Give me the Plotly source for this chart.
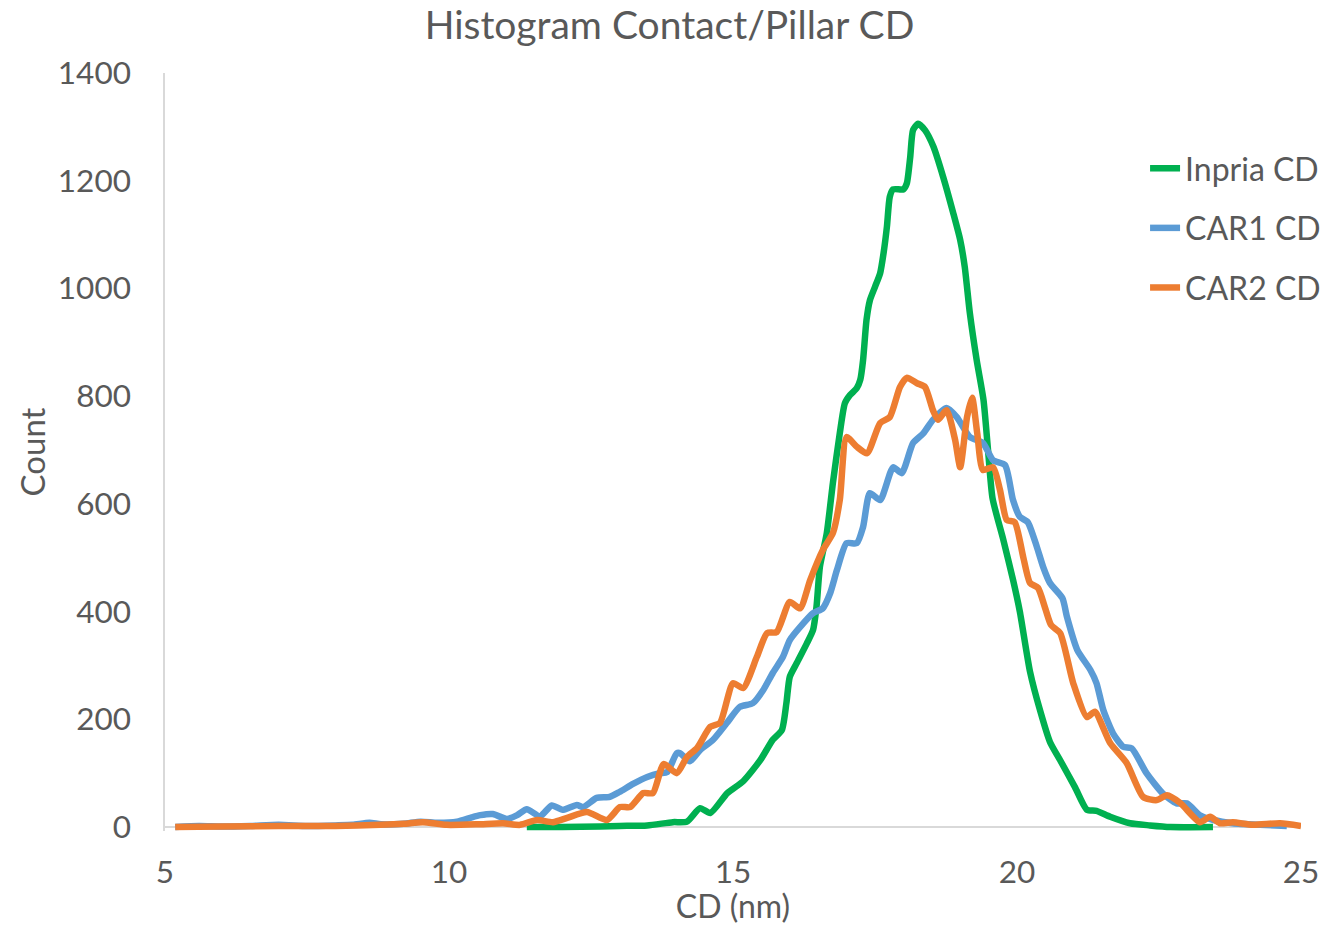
import plotly.graph_objects as go

# ---- data ----
inpria_x = [11.37, 12.0, 12.66, 13.0, 13.49, 13.94, 14.19, 14.42, 14.6, 14.9, 15.18, 15.48, 15.7,
            15.86, 15.94, 16.0, 16.12, 16.3, 16.41, 16.47, 16.53, 16.65, 16.76, 16.88, 16.97, 17.06,
            17.18, 17.24, 17.29, 17.35, 17.41, 17.5, 17.59, 17.65, 17.71, 17.76, 17.82, 18.0, 18.06,
            18.12, 18.17, 18.26, 18.38, 18.53, 18.7, 18.88, 19.0, 19.08, 19.17, 19.29, 19.41, 19.49,
            19.57, 19.76, 19.93, 20.05, 20.23, 20.41, 20.58, 20.76, 21.02, 21.23, 21.4, 21.64, 21.99,
            22.34, 22.7, 23.45]
inpria_y = [0, 0, 1, 2, 3, 9, 10, 35, 26, 63, 85, 124, 162,
            180, 230, 279, 304, 341, 366, 409, 483, 545, 640, 731, 787, 802,
            815, 830, 867, 941, 978, 1003, 1028, 1065, 1115, 1170, 1184, 1184, 1195,
            1244, 1294, 1306, 1294, 1263, 1207, 1139, 1090, 1040, 954, 867, 793, 700,
            610, 533, 459, 400, 288, 215, 158, 124, 74, 32, 30, 19, 7,
            3, 0, 0]

car1_x = [5.18, 5.6, 6.0, 6.5, 7.0, 7.5, 8.0, 8.3, 8.6, 8.8, 9.2, 9.5, 9.8, 10.14, 10.4, 10.55,
          10.77, 11.02, 11.2, 11.37, 11.6, 11.81, 12.0, 12.25, 12.36, 12.6, 12.83, 13.0, 13.24,
          13.49, 13.71, 13.84, 14.01, 14.07, 14.24, 14.42, 14.65, 14.89, 15.12, 15.35, 15.53,
          15.7, 15.88, 16.0, 16.18, 16.41, 16.58, 16.71, 16.83, 17.0, 17.18, 17.29, 17.41, 17.59,
          17.82, 17.97, 18.17, 18.35, 18.52, 18.76, 18.94, 19.17, 19.4, 19.58, 19.79, 19.93, 20.05,
          20.19, 20.35, 20.46, 20.58, 20.8, 20.88, 21.06, 21.29, 21.4, 21.52, 21.69, 21.87, 22.02,
          22.28, 22.57, 22.81, 22.99, 23.22, 23.46, 23.8, 24.28, 24.75]
car1_y = [0, 2, 1, 2, 4, 2, 3, 4, 8, 5, 6, 10, 8, 10, 18, 22,
          24, 15, 22, 33, 20, 40, 32, 41, 37, 54, 56, 65, 80,
          93, 100, 102, 137, 137, 122, 143, 162, 193, 223, 230, 254,
          286, 316, 347, 371, 397, 406, 434, 477, 527, 527, 557, 620, 607,
          668, 657, 713, 731, 756, 778, 761, 724, 713, 681, 672, 607, 576,
          566, 520, 483, 453, 425, 390, 329, 292, 267, 217, 174, 149, 146,
          100, 62, 44, 44, 22, 13, 7, 4, 2]

car2_x = [5.18, 6.0, 7.0, 8.0, 8.79, 9.2, 9.54, 9.96, 10.5, 10.95, 11.25, 11.55, 11.83, 12.08,
          12.43, 12.78, 13.01, 13.19, 13.42, 13.59, 13.78, 14.01, 14.19, 14.37, 14.6, 14.77, 15.0,
          15.18, 15.42, 15.6, 15.77, 16.0, 16.18, 16.36, 16.58, 16.76, 16.88, 17.0, 17.18, 17.36,
          17.59, 17.76, 17.94, 18.06, 18.24, 18.38, 18.52, 18.61, 18.76, 18.91, 19.0, 19.12, 19.21,
          19.3, 19.4, 19.58, 19.7, 19.82, 19.96, 20.11, 20.23, 20.37, 20.5, 20.6, 20.76, 20.99,
          21.23, 21.37, 21.64, 21.93, 22.22, 22.46, 22.64, 22.87, 23.22, 23.4, 23.57, 23.8, 24.15,
          24.63, 25.0]
car2_y = [0, 1, 2, 2, 4, 6, 9, 4, 5, 7, 4, 13, 9, 17,
          28, 13, 37, 37, 63, 63, 117, 100, 130, 147, 186, 193, 267,
          258, 316, 360, 362, 418, 406, 459, 514, 546, 607, 724, 706, 694,
          750, 761, 817, 834, 824, 817, 774, 756, 774, 719, 668, 761, 797,
          731, 663, 668, 626, 570, 566, 501, 453, 444, 405, 375, 360, 267,
          204, 214, 156, 119, 56, 50, 59, 45, 9, 19, 7, 9, 4,
          7, 2]

series_names = ["Inpria CD", "CAR1 CD", "CAR2 CD"]
series_colors = ["#00B050", "#5B9BD5", "#ED7D31"]

x_ticks = [5, 10, 15, 20, 25]
y_ticks = [0, 200, 400, 600, 800, 1000, 1200, 1400]

FONT = "Lato"
GREY = "#595959"

fig = go.Figure()
for name, xs, ys, col in zip(series_names, [inpria_x, car1_x, car2_x],
                             [inpria_y, car1_y, car2_y], series_colors):
    fig.add_trace(go.Scatter(x=xs, y=ys, mode="lines", name=name, legendgroup=name,
                             line=dict(color=col, width=6.5, shape="spline", smoothing=0.6)))

fig.update_layout(
    width=1331, height=925,
    margin=dict(l=165, r=30, t=73, b=94, autoexpand=False),
    paper_bgcolor="white", plot_bgcolor="white",
    font=dict(family=FONT, color=GREY, size=31),
    title=dict(text="Histogram Contact/Pillar CD", x=0.503, xanchor="center", xref="container",
               y=0.973, yanchor="middle", yref="container",
               font=dict(size=39, color=GREY, family=FONT)),
    showlegend=True,
    legend=dict(x=0.8603, y=0.8476, xanchor="left", yanchor="top",
                xref="container", yref="container",
                font=dict(size=32, color=GREY, family=FONT), tracegroupgap=15,
                bgcolor="rgba(0,0,0,0)"),
)
fig.update_xaxes(range=[5, 25], tickvals=x_ticks, ticktext=[str(v) for v in x_ticks],
                 showgrid=False, zeroline=False, showline=False, ticks="",
                 tickfont=dict(size=31.5), automargin=False,
                 ticklabelstandoff=19,
                 title=dict(text="CD (nm)", standoff=5, font=dict(size=32, color=GREY)))
fig.update_yaxes(range=[-7.4, 1400], tickvals=y_ticks, ticktext=[str(v) for v in y_ticks],
                 showgrid=False, zeroline=True, zerolinecolor="#D9D9D9", zerolinewidth=2,
                 showline=True, linecolor="#D9D9D9", linewidth=1.5, ticks="",
                 tickfont=dict(size=31.5), automargin=False,
                 ticklabelstandoff=26,
                 title=dict(text="Count", standoff=2, font=dict(size=33, color=GREY)))

fig.write_html("out.html")
